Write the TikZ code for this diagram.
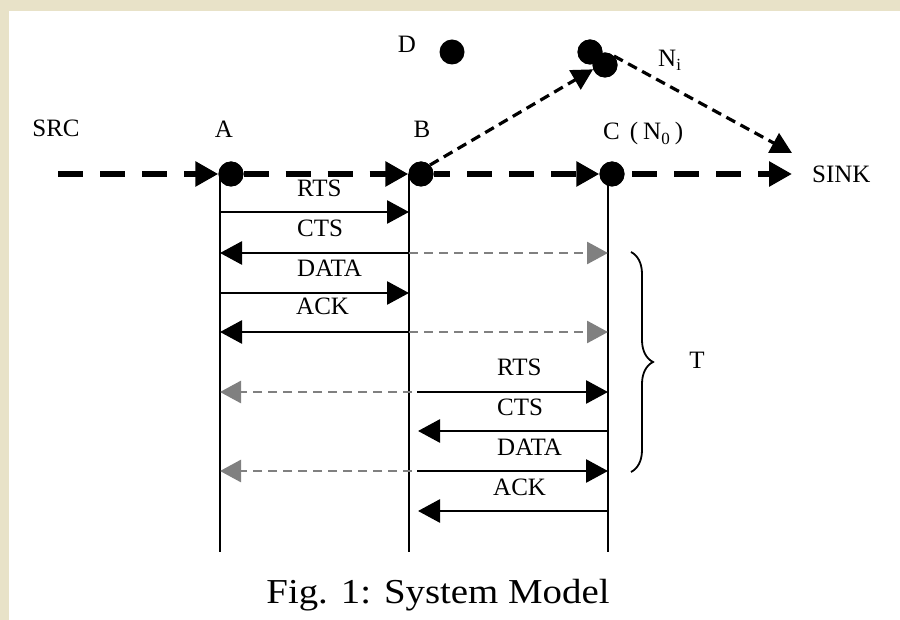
\documentclass[tikz,border=0pt]{standalone}
\usepackage{fontspec}
\usepackage{graphicx}
\setmainfont{Liberation Serif}
\usetikzlibrary{arrows.meta,decorations.pathreplacing}
\definecolor{parchment}{RGB}{232,226,200}
\definecolor{echo}{RGB}{128,128,128}
% lowered small index after a letter
\newcommand\idx[2]{\raisebox{-#1}{\fontsize{17}{17}\selectfont #2}}

\begin{document}
\begin{tikzpicture}[x=1pt,y=-1pt,
  lbl/.style={inner sep=0pt, anchor=base, font=\fontsize{25}{30}\selectfont},
  dot/.style={circle, fill=black, inner sep=0pt, minimum size=25pt},
  lifeline/.style={line width=2.8pt},
  flow/.style={line width=6pt, dash pattern=on 25pt off 17pt,
    -{Triangle[length=23pt,width=24pt]}},
  msg/.style={line width=2.8pt, -{Triangle[length=22pt,width=23pt]}},
  echomsg/.style={echo, line width=2.8pt, dash pattern=on 9pt off 6pt,
    -{Triangle[length=21pt,width=22pt]}},
  hop/.style={line width=3.2pt, dash pattern=on 10pt off 6pt,
    -{Triangle[length=21pt,width=22pt]}},
]
\useasboundingbox (0,0) rectangle (900,620);
\fill[parchment] (0,0) rectangle (900,620);
\fill[white] (9,11) rectangle (900,620);

% relay nodes on the main route
\node[dot] (A) at (231,174) {};
\node[dot] (B) at (421,174) {};
\node[dot] (C) at (612,174) {};
\node[dot] (D) at (452,52) {};
\node[dot] (Ni1) at (590,52) {};
\node[dot] (Ni2) at (605,65) {};

\coordinate (src) at (58,174);
\coordinate (sink) at (792,174);
\coordinate (sinkin) at (792,153);

% lifelines
\coordinate (Atop) at (220,174); \coordinate (Abot) at (220,552);
\coordinate (Btop) at (409,174); \coordinate (Bbot) at (409,552);
\coordinate (Ctop) at (608,174); \coordinate (Cbot) at (608,552);
\draw[lifeline] (Atop) -- (Abot);
\draw[lifeline] (Btop) -- (Bbot);
\draw[lifeline] (Ctop) -- (Cbot);

% message rows
\foreach \r/\y in {1/212,2/253,3/293,4/332,5/392,6/431,7/471,8/511}{
  \coordinate (a\r) at (220,\y);
  \coordinate (b\r) at (409,\y);
  \coordinate (c\r) at (608,\y);
}
% A <-> B exchange, overheard by C
\draw[msg] (a1) -- (b1);
\draw[echomsg] (b2) -- (c2);
\draw[msg] (b2) -- (a2);
\draw[msg] (a3) -- (b3);
\draw[echomsg] (b4) -- (c4);
\draw[msg] (b4) -- (a4);
% B <-> C exchange, overheard by A
\draw[echomsg] ([xshift=3pt]b5) -- (a5);
\draw[msg] ([xshift=8pt]b5) -- (c5);
\draw[msg] (c6) -- ([xshift=9pt]b6);
\draw[echomsg] ([xshift=3pt]b7) -- (a7);
\draw[msg] ([xshift=8pt]b7) -- (c7);
\draw[msg] (c8) -- ([xshift=9pt]b8);

\node[lbl, anchor=base west] (m1) at (297,197) {RTS};
\node[lbl, anchor=base west] (m2) at (297,237) {CTS};
\node[lbl, anchor=base west] (m3) at (297,277) {DATA};
\node[lbl, anchor=base west] (m4) at (296,315) {ACK};
\node[lbl, anchor=base west] (m5) at (497,375) {RTS};
\node[lbl, anchor=base west] (m6) at (497,415) {CTS};
\node[lbl, anchor=base west] (m7) at (497,455) {DATA};
\node[lbl, anchor=base west] (m8) at (493,495) {ACK};

% main route
\draw[flow] (src) -- (A.west);
\draw[flow] (A.east) -- (B.west);
\draw[flow, dash phase=8.5pt] (B.east) -- (C.west);
\draw[flow, dash phase=34.5pt] (C.east) -- (sink);

% detour through N_i
\draw[hop] (B.north east) -- (Ni2.200);
\draw[hop] (Ni2.north east) -- (sinkin);

% redraw dots on top
\fill (A) circle (12.5pt);
\fill (B) circle (12.5pt);
\fill (C) circle (12.5pt);
\fill (Ni1) circle (12.5pt);
\fill (Ni2) circle (12.5pt);

% duration brace
\coordinate (brtop) at (631,252);
\coordinate (brbot) at (631,472);
\draw[line width=1.8pt, decorate, decoration={brace, amplitude=22pt}] (brtop) -- (brbot);
\node[lbl] (T) at (697,369) {T};

% labels
\node[lbl] (srcl) at (56,137) {SRC};
\node[lbl] (Al) at (224,138) {A};
\node[lbl] (Bl) at (422,138) {B};
\node[lbl, anchor=base west] (Cl) at (603,140) {C\hspace{10pt}(\hspace{5pt}N\idx{5pt}{0}\hspace{5pt})};
\node[lbl, anchor=base west] (sinkl) at (812,183) {SINK};
\node[lbl] (Dl) at (407,53) {D};
\node[lbl, anchor=base west] (Nil) at (658,67) {N\idx{4pt}{i}};

\node[lbl, font=\fontsize{35}{40}\selectfont] (caption) at (438,603)
  {\scalebox{1.11}[1]{Fig. 1: System Model}};
\end{tikzpicture}
\end{document}
